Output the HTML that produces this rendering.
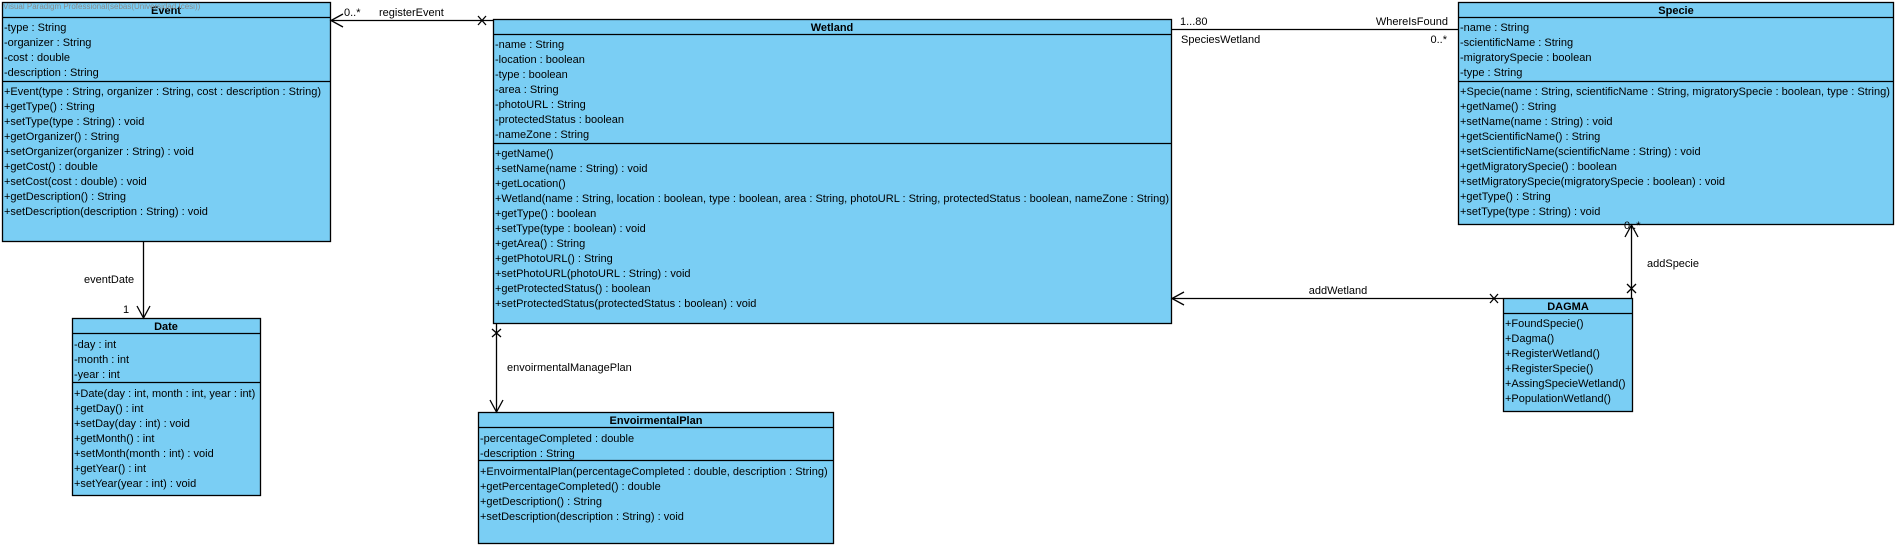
<!DOCTYPE html>
<html><head><meta charset="utf-8"><style>
html,body{margin:0;padding:0;background:#fff;}
svg{display:block;}
text{font-family:"Liberation Sans",Arial,sans-serif;font-size:11px;fill:#000;}
.t{font-weight:bold;text-anchor:middle;}
.b{fill:#7ACEF4;stroke:#000;stroke-width:1.3;}
.l{stroke:#000;stroke-width:1.3;fill:none;}
</style></head><body>
<svg width="1896" height="547" viewBox="0 0 1896 547" xmlns="http://www.w3.org/2000/svg">
<!-- Event -->
<rect class="b" x="2.5" y="2.5" width="328" height="239"/>
<line class="l" x1="2.5" y1="17.5" x2="330.5" y2="17.5"/>
<line class="l" x1="2.5" y1="81.5" x2="330.5" y2="81.5"/>
<text class="t" x="166" y="14">Event</text>
<text x="3" y="9" style="font-size:8px;fill:#8a8a8a">Visual Paradigm Professional(sebas(Universidad Icesi))</text>
<text x="4" y="31">-type : String</text>
<text x="4" y="46">-organizer : String</text>
<text x="4" y="61">-cost : double</text>
<text x="4" y="76">-description : String</text>
<text x="4" y="95">+Event(type : String, organizer : String, cost :  description : String)</text>
<text x="4" y="110">+getType() : String</text>
<text x="4" y="125">+setType(type : String) : void</text>
<text x="4" y="140">+getOrganizer() : String</text>
<text x="4" y="155">+setOrganizer(organizer : String) : void</text>
<text x="4" y="170">+getCost() : double</text>
<text x="4" y="185">+setCost(cost : double) : void</text>
<text x="4" y="200">+getDescription() : String</text>
<text x="4" y="215">+setDescription(description : String) : void</text>

<!-- Date -->
<rect class="b" x="72.5" y="318.5" width="188" height="177"/>
<line class="l" x1="72.5" y1="333.5" x2="260.5" y2="333.5"/>
<line class="l" x1="72.5" y1="382.5" x2="260.5" y2="382.5"/>
<text class="t" x="166" y="330">Date</text>
<text x="74" y="348">-day : int</text>
<text x="74" y="363">-month : int</text>
<text x="74" y="378">-year : int</text>
<text x="74" y="397">+Date(day : int, month : int, year : int)</text>
<text x="74" y="412">+getDay() : int</text>
<text x="74" y="427">+setDay(day : int) : void</text>
<text x="74" y="442">+getMonth() : int</text>
<text x="74" y="457">+setMonth(month : int) : void</text>
<text x="74" y="472">+getYear() : int</text>
<text x="74" y="487">+setYear(year : int) : void</text>

<!-- Wetland -->
<rect class="b" x="493.5" y="19.5" width="678" height="304"/>
<line class="l" x1="493.5" y1="34.5" x2="1171.5" y2="34.5"/>
<line class="l" x1="493.5" y1="143.5" x2="1171.5" y2="143.5"/>
<text class="t" x="832" y="31">Wetland</text>
<text x="495" y="48">-name : String</text>
<text x="495" y="63">-location : boolean</text>
<text x="495" y="78">-type : boolean</text>
<text x="495" y="93">-area : String</text>
<text x="495" y="108">-photoURL : String</text>
<text x="495" y="123">-protectedStatus : boolean</text>
<text x="495" y="138">-nameZone : String</text>
<text x="495" y="157">+getName()</text>
<text x="495" y="172">+setName(name : String) : void</text>
<text x="495" y="187">+getLocation()</text>
<text x="495" y="202" textLength="674" lengthAdjust="spacingAndGlyphs">+Wetland(name : String, location : boolean, type : boolean, area : String, photoURL : String, protectedStatus : boolean, nameZone : String)</text>
<text x="495" y="217">+getType() : boolean</text>
<text x="495" y="232">+setType(type : boolean) : void</text>
<text x="495" y="247">+getArea() : String</text>
<text x="495" y="262">+getPhotoURL() : String</text>
<text x="495" y="277">+setPhotoURL(photoURL : String) : void</text>
<text x="495" y="292">+getProtectedStatus() : boolean</text>
<text x="495" y="307">+setProtectedStatus(protectedStatus : boolean) : void</text>

<!-- EnvoirmentalPlan -->
<rect class="b" x="478.5" y="412.5" width="355" height="131"/>
<line class="l" x1="478.5" y1="427.5" x2="833.5" y2="427.5"/>
<line class="l" x1="478.5" y1="460.5" x2="833.5" y2="460.5"/>
<text class="t" x="656" y="424">EnvoirmentalPlan</text>
<text x="480" y="442">-percentageCompleted : double</text>
<text x="480" y="457">-description : String</text>
<text x="480" y="475">+EnvoirmentalPlan(percentageCompleted : double, description : String)</text>
<text x="480" y="490">+getPercentageCompleted() : double</text>
<text x="480" y="505">+getDescription() : String</text>
<text x="480" y="520">+setDescription(description : String) : void</text>

<!-- Specie -->
<rect class="b" x="1458.5" y="2.5" width="435" height="222"/>
<line class="l" x1="1458.5" y1="17.5" x2="1893.5" y2="17.5"/>
<line class="l" x1="1458.5" y1="81.5" x2="1893.5" y2="81.5"/>
<text class="t" x="1676" y="14">Specie</text>
<text x="1460" y="31">-name : String</text>
<text x="1460" y="46">-scientificName : String</text>
<text x="1460" y="61">-migratorySpecie : boolean</text>
<text x="1460" y="76">-type : String</text>
<text x="1460" y="95" textLength="430" lengthAdjust="spacingAndGlyphs">+Specie(name : String, scientificName : String, migratorySpecie : boolean, type : String)</text>
<text x="1460" y="110">+getName() : String</text>
<text x="1460" y="125">+setName(name : String) : void</text>
<text x="1460" y="140">+getScientificName() : String</text>
<text x="1460" y="155">+setScientificName(scientificName : String) : void</text>
<text x="1460" y="170">+getMigratorySpecie() : boolean</text>
<text x="1460" y="185">+setMigratorySpecie(migratorySpecie : boolean) : void</text>
<text x="1460" y="200">+getType() : String</text>
<text x="1460" y="215">+setType(type : String) : void</text>

<!-- DAGMA -->
<rect class="b" x="1503.5" y="298.5" width="129" height="113"/>
<line class="l" x1="1503.5" y1="313.5" x2="1632.5" y2="313.5"/>
<text class="t" x="1568" y="310">DAGMA</text>
<text x="1505" y="327">+FoundSpecie()</text>
<text x="1505" y="342">+Dagma()</text>
<text x="1505" y="357">+RegisterWetland()</text>
<text x="1505" y="372">+RegisterSpecie()</text>
<text x="1505" y="387">+AssingSpecieWetland()</text>
<text x="1505" y="402">+PopulationWetland()</text>

<!-- registerEvent -->
<line class="l" x1="331" y1="20.5" x2="493" y2="20.5"/>
<polyline class="l" points="343,14 331,20.5 343,27"/>
<path class="l" d="M478,16 L486,25 M486,16 L478,25"/>
<text x="344" y="16">0..*</text>
<text x="379" y="16">registerEvent</text>

<!-- eventDate -->
<line class="l" x1="143.5" y1="241" x2="143.5" y2="318"/>
<polyline class="l" points="137,306 143.5,318 150,306"/>
<text x="84" y="283">eventDate</text>
<text x="123" y="313">1</text>

<!-- envoirmentalManagePlan -->
<line class="l" x1="496.5" y1="323" x2="496.5" y2="412"/>
<polyline class="l" points="490,400 496.5,412 503,400"/>
<path class="l" d="M492,329 L501,337 M501,329 L492,337"/>
<text x="507" y="371">envoirmentalManagePlan</text>

<!-- SpeciesWetland -->
<line class="l" x1="1171" y1="29.5" x2="1458" y2="29.5"/>
<text x="1180" y="25">1...80</text>
<text x="1448" y="25" style="text-anchor:end">WhereIsFound</text>
<text x="1181" y="43">SpeciesWetland</text>
<text x="1447" y="43" style="text-anchor:end">0..*</text>

<!-- addWetland -->
<line class="l" x1="1172" y1="298.5" x2="1503" y2="298.5"/>
<polyline class="l" points="1184,292 1172,298.5 1184,305"/>
<path class="l" d="M1490,294 L1498,303 M1498,294 L1490,303"/>
<text x="1338" y="294" style="text-anchor:middle">addWetland</text>

<!-- addSpecie -->
<line class="l" x1="1631.5" y1="225" x2="1631.5" y2="298"/>
<polyline class="l" points="1625,237 1631.5,225 1638,237"/>
<path class="l" d="M1627,284 L1636,293 M1636,284 L1627,293"/>
<text x="1624" y="229">0..*</text>
<text x="1647" y="267">addSpecie</text>
</svg>
</body></html>
